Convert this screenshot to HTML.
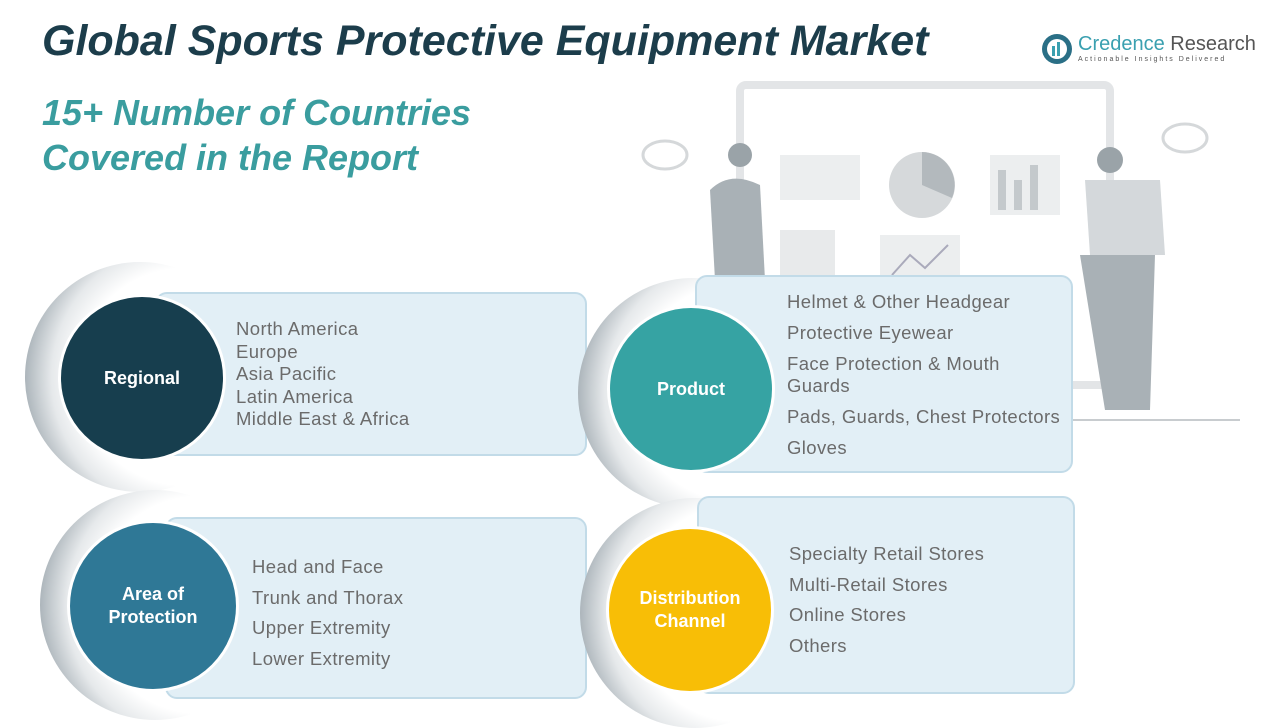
<!DOCTYPE html>
<html><head><meta charset="utf-8"><style>
body{margin:0;width:1280px;height:720px;background:#fff;position:relative;overflow:hidden;font-family:"Liberation Sans",sans-serif}
.abs{position:absolute}
.card{position:absolute;background:#e2eff6;border:2px solid #c2dbe8;border-radius:12px;box-sizing:border-box}
.ring{position:absolute;border-radius:50%;background:radial-gradient(circle at 70% 50%,#fff 55%,#e6e9eb 68%,#aab3b9 82%,#eef0f1 95%,#fff 100%)}
.circ{position:absolute;border-radius:50%;border:3px solid #fff;display:flex;align-items:center;justify-content:center;text-align:center;color:#fff;font-weight:bold;font-size:18px;line-height:23px;box-sizing:border-box}
.list{position:absolute;color:#6b6b6b;font-size:18.5px;letter-spacing:0.4px}
</style></head><body>
<div class="abs" style="left:42px;top:17px;font-size:43px;font-weight:bold;font-style:italic;color:#1c3d4b">Global Sports Protective Equipment Market</div>
<div class="abs" style="left:42px;top:90px;font-size:36px;line-height:45px;font-weight:bold;font-style:italic;color:#3a9d9f">15+ Number of Countries<br>Covered in the Report</div>
<svg class="abs" style="left:1040px;top:32px" width="36" height="34"><circle cx="17" cy="17" r="15" fill="#2a6f86"/><circle cx="17" cy="17" r="10" fill="#fff"/><rect x="12" y="14" width="3" height="10" fill="#3aa0b0"/><rect x="17" y="10" width="3" height="14" fill="#3aa0b0"/></svg>
<div class="abs" style="left:1078px;top:33px;font-size:20px;color:#3aa0b0">Credence <span style="color:#555">Research</span></div>
<div class="abs" style="left:1078px;top:56px;font-size:7px;letter-spacing:2px;color:#555">Actionable Insights Delivered</div>
<svg class="abs" style="left:630px;top:80px" width="620" height="345">
<rect x="110" y="5" width="370" height="300" fill="none" stroke="#e3e5e7" stroke-width="8" rx="6"/>
<rect x="150" y="75" width="80" height="45" fill="#eceeef"/><rect x="150" y="150" width="55" height="120" fill="#e8eaeb"/>
<circle cx="292" cy="105" r="33" fill="#d6d9db"/><path d="M292 105 L292 72 A33 33 0 0 1 322 118Z" fill="#b3b9bd"/>
<rect x="360" y="75" width="70" height="60" fill="#eceeef"/><rect x="368" y="90" width="8" height="40" fill="#c4c9cc"/><rect x="384" y="100" width="8" height="30" fill="#c4c9cc"/><rect x="400" y="85" width="8" height="45" fill="#c4c9cc"/>
<rect x="250" y="155" width="80" height="60" fill="#eceeef"/><polyline points="262,195 280,175 295,188 318,165" fill="none" stroke="#aab" stroke-width="2"/>
<ellipse cx="35" cy="75" rx="22" ry="14" fill="none" stroke="#d5d8da" stroke-width="3"/><ellipse cx="555" cy="58" rx="22" ry="14" fill="none" stroke="#d5d8da" stroke-width="3"/>
<circle cx="110" cy="75" r="12" fill="#9aa3a8"/><path d="M80 110 Q100 90 130 105 L135 200 L85 200Z" fill="#a9b1b6"/><path d="M90 200 L130 200 L130 340 L95 340Z" fill="#bfc5c9"/>
<circle cx="480" cy="80" r="13" fill="#9aa3a8"/><path d="M455 100 L530 100 L535 175 L460 175Z" fill="#d4d8db"/><path d="M450 175 L525 175 L520 330 L475 330Z" fill="#a9b1b6"/>
<line x1="420" y1="340" x2="610" y2="340" stroke="#c8cccf" stroke-width="2"/>
</svg>

<div class="ring" style="left:25px;top:262px;width:230px;height:230px"></div>
<div class="card" style="left:155px;top:292px;width:432px;height:164px"></div>
<div class="circ" style="left:58px;top:294px;width:168px;height:168px;background:#173e4e">Regional</div>
<div class="list" style="left:236px;top:318px;line-height:22.5px">North America<br>Europe<br>Asia Pacific<br>Latin America<br>Middle East &amp; Africa</div>

<div class="ring" style="left:578px;top:278px;width:230px;height:230px"></div>
<div class="card" style="left:695px;top:275px;width:378px;height:198px"></div>
<div class="circ" style="left:607px;top:305px;width:168px;height:168px;background:#36a3a3">Product</div>
<div class="list" style="left:787px;top:291px;line-height:22px">
<div>Helmet &amp; Other Headgear</div><div style="margin-top:9px">Protective Eyewear</div><div style="margin-top:9px">Face Protection &amp; Mouth<br>Guards</div><div style="margin-top:9px">Pads, Guards, Chest Protectors</div><div style="margin-top:9px">Gloves</div></div>

<div class="ring" style="left:40px;top:490px;width:230px;height:230px"></div>
<div class="card" style="left:165px;top:517px;width:422px;height:182px"></div>
<div class="circ" style="left:67px;top:520px;width:172px;height:172px;background:#2f7896">Area of<br>Protection</div>
<div class="list" style="left:252px;top:552px;line-height:30.5px">Head and Face<br>Trunk and Thorax<br>Upper Extremity<br>Lower Extremity</div>

<div class="ring" style="left:580px;top:498px;width:230px;height:230px"></div>
<div class="card" style="left:697px;top:496px;width:378px;height:198px"></div>
<div class="circ" style="left:606px;top:526px;width:168px;height:168px;background:#f8be06">Distribution<br>Channel</div>
<div class="list" style="left:789px;top:539px;line-height:30.5px">Specialty Retail Stores<br>Multi-Retail Stores<br>Online Stores<br>Others</div>
</body></html>
